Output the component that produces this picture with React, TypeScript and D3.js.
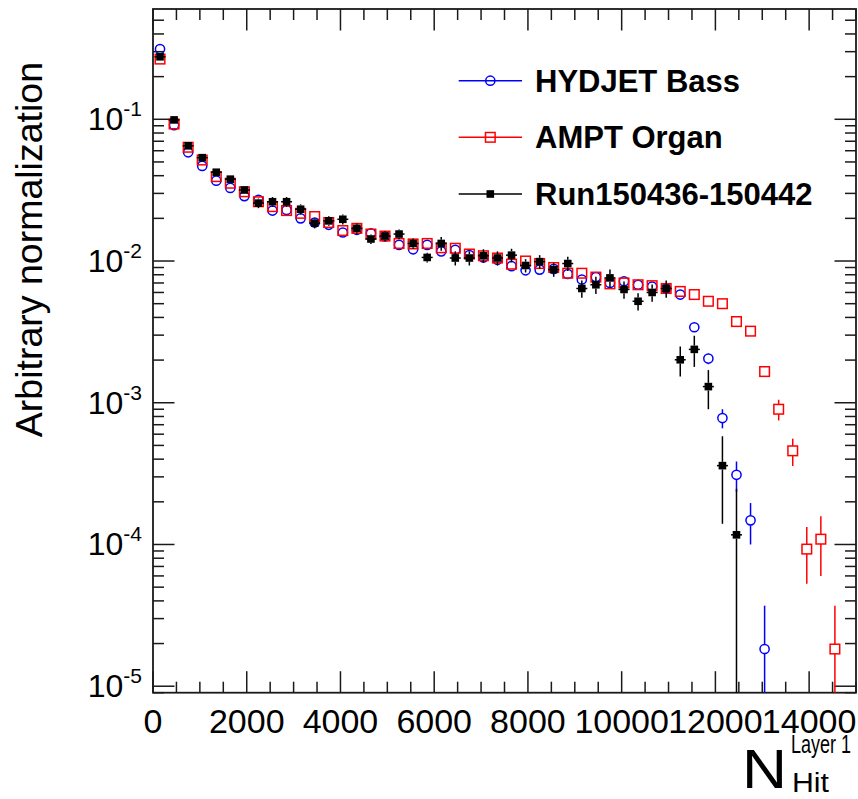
import React from "react";
import * as d3 from "d3";

const binCenters = [
  150, 450, 750, 1050, 1350, 1650, 1950, 2250, 2550, 2850,
  3150, 3450, 3750, 4050, 4350, 4650, 4950, 5250, 5550, 5850,
  6150, 6450, 6750, 7050, 7350, 7650, 7950, 8250, 8550, 8850,
  9150, 9450, 9750, 10050, 10350, 10650, 10950, 11250, 11550, 11850,
  12150, 12450, 12750, 13050, 13350, 13650, 13950, 14250, 14550,
];

const hydjet = [
  0.313, 0.091, 0.0585, 0.0469, 0.0369, 0.0328, 0.0287, 0.027, 0.0227, 0.0229,
  0.02, 0.0187, 0.018, 0.0159, 0.0166, 0.0157, 0.0149, 0.013, 0.0121, 0.013,
  0.0117, 0.012, 0.011, 0.0106, 0.0102, 0.0092, 0.0086, 0.0087, 0.0088, 0.0081,
  0.0074, 0.0077, 0.007, 0.0072, 0.0068, 0.0066, 0.0064, 0.0058, 0.00341, 0.00205,
  0.00078, 0.00031, 0.000148, 0.0000183,
];
const hydjetErr = [
  0.004, 0.0015, 0.001, 0.0008, 0.0006, 0.0005, 0.0005, 0.0004, 0.0004, 0.0004,
  0.0003, 0.0003, 0.0003, 0.0003, 0.0003, 0.0003, 0.0003, 0.0002, 0.0002, 0.0002,
  0.0002, 0.0002, 0.0002, 0.0002, 0.0002, 0.0002, 0.0002, 0.0002, 0.0002, 0.0002,
  0.0002, 0.0002, 0.0002, 0.0002, 0.0002, 0.0002, 0.0002, 0.00017, 0.0002, 0.00018,
  0.00012, 0.000075, 0.000048, 0.0000187,
];

const ampt = [
  0.266, 0.0927, 0.0635, 0.0516, 0.0394, 0.0354, 0.0308, 0.0262, 0.0242, 0.0227,
  0.0217, 0.0206, 0.0187, 0.0164, 0.017, 0.0155, 0.015, 0.0133, 0.0132, 0.0133,
  0.0124, 0.0123, 0.0112, 0.0109, 0.0105, 0.0095, 0.01, 0.0096, 0.009, 0.0082,
  0.0082, 0.0077, 0.0069, 0.007, 0.0068, 0.0067, 0.0064, 0.0061, 0.0058, 0.0052,
  0.005, 0.00374, 0.0032, 0.00166, 0.0009, 0.000458, 0.0000928, 0.000109, 0.0000183,
];
const amptErr = [
  0.004, 0.0015, 0.001, 0.0008, 0.0006, 0.0005, 0.0005, 0.0004, 0.0004, 0.0004,
  0.0003, 0.0003, 0.0003, 0.0003, 0.0003, 0.0003, 0.0003, 0.0002, 0.0002, 0.0002,
  0.0002, 0.0002, 0.0002, 0.0002, 0.0002, 0.0002, 0.0002, 0.0002, 0.0002, 0.0002,
  0.0002, 0.0002, 0.0002, 0.0002, 0.0002, 0.0002, 0.0002, 0.0002, 0.0002, 0.0002,
  0.0001, 0.00012, 0.00012, 0.00014, 0.00015, 0.0001, 0.00004, 0.000049, 0.0000187,
];

const runData = [
  0.276, 0.099, 0.065, 0.0536, 0.0423, 0.0378, 0.0317, 0.0256, 0.0262, 0.0262,
  0.0232, 0.0185, 0.0192, 0.0197, 0.017, 0.0143, 0.015, 0.0155, 0.0133, 0.0106,
  0.0133, 0.0105, 0.0105, 0.0109, 0.0105, 0.011, 0.0093, 0.0099, 0.0087, 0.0096,
  0.0064, 0.0068, 0.0076, 0.0063, 0.0052, 0.006, 0.0064, 0.00201, 0.00238, 0.0013,
  0.00036, 0.000117,
];
const runErr = [
  0.0166, 0.0059, 0.0039, 0.0032, 0.0025, 0.0023, 0.0019, 0.002, 0.0021, 0.0021,
  0.0019, 0.0015, 0.0015, 0.0016, 0.0014, 0.0011, 0.0012, 0.0012, 0.0011, 0.00085,
  0.0015, 0.0012, 0.0012, 0.0012, 0.0012, 0.0012, 0.001, 0.0011, 0.00096, 0.0011,
  0.0009, 0.00095, 0.0011, 0.00088, 0.00073, 0.00084, 0.0009, 0.00048, 0.00059, 0.0004,
  0.00022, 0.00013,
];

const xTickValues = [0, 2000, 4000, 6000, 8000, 10000, 12000, 14000];
const yDecades = [-5, -4, -3, -2, -1];
const legendLabels = ["HYDJET Bass", "AMPT Organ", "Run150436-150442"];

const W = 858;
const H = 799;
const L = 153;
const R = 856;
const T = 9;
const B = 692.7;
const FONT = "'Liberation Sans', Arial, Helvetica, sans-serif";

const x = d3.scaleLinear().domain([0, 15000]).range([L, R]);
const y = d3.scaleLog().domain([9e-6, 0.6]).range([B, T]);

type Kind = "circle" | "square" | "filled";

function Marker({ kind, cx, cy, color }: { kind: Kind; cx: number; cy: number; color: string }) {
  if (kind === "circle")
    return <circle cx={cx} cy={cy} r={4.6} fill="none" stroke={color} strokeWidth={1.5} />;
  if (kind === "square")
    return <rect x={cx - 4.8} y={cy - 4.8} width={9.6} height={9.6} fill="none" stroke={color} strokeWidth={1.5} />;
  return <rect x={cx - 3.8} y={cy - 3.8} width={7.6} height={7.6} fill={color} />;
}

function Series({ vals, errs, kind, color }: { vals: number[]; errs: number[]; kind: Kind; color: string }) {
  const half = kind === "filled" ? 3.8 : 4.8;
  return (
    <g>
      {vals.map((v, i) => {
        const cx = x(binCenters[i]);
        const cy = y(v);
        const lo = v - errs[i];
        const yLo = lo > 9e-6 ? Math.min(y(lo), B) : B;
        const yHi = y(v + errs[i]);
        return (
          <g key={i}>
            {yHi < cy - half && <line x1={cx} x2={cx} y1={yHi} y2={cy - half} stroke={color} strokeWidth={1.5} />}
            {yLo > cy + half && <line x1={cx} x2={cx} y1={cy + half} y2={yLo} stroke={color} strokeWidth={1.5} />}
            {kind === "filled" && <line x1={cx - 5.5} x2={cx + 5.5} y1={cy} y2={cy} stroke={color} strokeWidth={1.5} />}
            <Marker kind={kind} cx={cx} cy={cy} color={color} />
          </g>
        );
      })}
    </g>
  );
}

export default function App() {
  const xMinor: number[] = d3.range(0, 15001, 500);
  const yMinor: number[] = [];
  for (let e = -6; e <= 0; e++) {
    for (let m = 2; m <= 9; m++) {
      const v = m * Math.pow(10, e);
      if (v >= 9e-6 && v <= 0.6) yMinor.push(v);
    }
  }
  const legendYs = [80.7, 137.3, 194];
  const legendKinds: Kind[] = ["circle", "square", "filled"];
  const legendColors = ["#0000ff", "#ff0000", "#000000"];
  const axisColor = "#1a1a1a";

  return (
    <svg width={W} height={H} style={{ position: "absolute", left: 0, top: 0, background: "#fff" }} fontFamily={FONT}>
      <rect x={0} y={0} width={W} height={H} fill="#fff" />
      {/* ticks */}
      <g stroke={axisColor} strokeWidth={1.5}>
        {xMinor.map((v) => {
          const major = v % 2000 === 0;
          const len = major ? 21.5 : 11;
          const px = x(v);
          return (
            <g key={"xt" + v}>
              <line x1={px} x2={px} y1={B} y2={B - len} />
              <line x1={px} x2={px} y1={T} y2={T + len} />
            </g>
          );
        })}
        {yMinor.map((v) => (
          <g key={"ym" + v}>
            <line x1={L} x2={L + 11} y1={y(v)} y2={y(v)} />
            <line x1={R} x2={R - 11} y1={y(v)} y2={y(v)} />
          </g>
        ))}
        {yDecades.map((e) => (
          <g key={"yd" + e}>
            <line x1={L} x2={L + 21.5} y1={y(Math.pow(10, e))} y2={y(Math.pow(10, e))} />
            <line x1={R} x2={R - 21.5} y1={y(Math.pow(10, e))} y2={y(Math.pow(10, e))} />
          </g>
        ))}
      </g>
      <rect x={L} y={T} width={R - L} height={B - T} fill="none" stroke={axisColor} strokeWidth={1.8} />

      {/* x tick labels */}
      {xTickValues.map((v) => (
        <text key={"xl" + v} x={x(v)} y={733} textAnchor="middle" fontSize={34} fill="#000">
          {v}
        </text>
      ))}
      {/* y tick labels */}
      {yDecades.map((e) => (
        <text key={"yl" + e} x={142} y={y(Math.pow(10, e)) + 11} textAnchor="end" fontSize={32} fill="#000">
          10
          <tspan dy={-14} fontSize={21}>
            {String(e)}
          </tspan>
        </text>
      ))}

      {/* axis titles */}
      <text transform="translate(42,62) rotate(-90)" textAnchor="end" fontSize={37.5} fill="#000">
        Arbitrary normalization
      </text>
      <text x={787} y={788} textAnchor="end" fontSize={55} fill="#000" textLength={45} lengthAdjust="spacingAndGlyphs">N</text>
      <text x={791} y={753} fontSize={25} fill="#000" textLength={60} lengthAdjust="spacingAndGlyphs">Layer 1</text>
      <text x={792} y={792} fontSize={27} fill="#000" textLength={37} lengthAdjust="spacingAndGlyphs">Hit</text>

      {/* data */}
      <Series vals={hydjet} errs={hydjetErr} kind="circle" color="#0000ff" />
      <Series vals={ampt} errs={amptErr} kind="square" color="#ff0000" />
      <Series vals={runData} errs={runErr} kind="filled" color="#000000" />

      {/* legend */}
      {legendLabels.map((lab, i) => (
        <g key={lab}>
          <line x1={458.7} x2={522} y1={legendYs[i]} y2={legendYs[i]} stroke={legendColors[i]} strokeWidth={1.5} />
          <Marker kind={legendKinds[i]} cx={490.3} cy={legendYs[i]} color={legendColors[i]} />
          <text x={535} y={legendYs[i] + 11} fontSize={31} fontWeight="bold" fill="#000">
            {lab}
          </text>
        </g>
      ))}
    </svg>
  );
}
